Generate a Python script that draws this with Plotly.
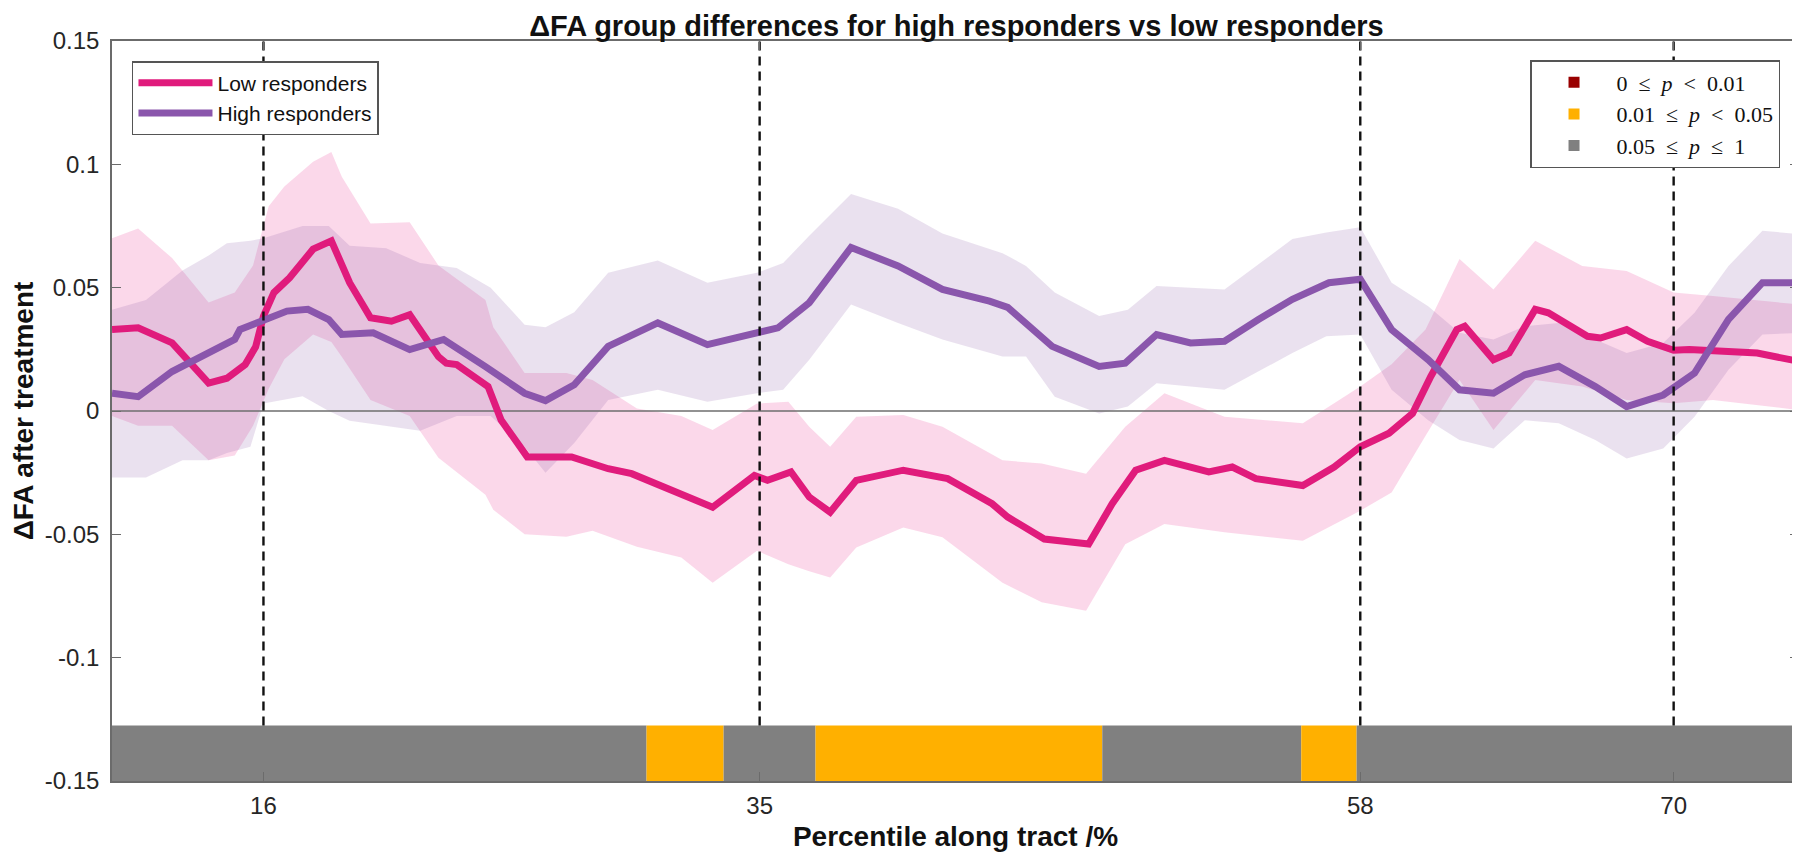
import plotly.graph_objects as go

# ---------------- data ----------------
low_x = [10.2, 11.2, 12.5, 13.9, 14.6, 15.3, 15.7, 16.0, 16.4, 17.0, 17.9, 18.6, 19.3, 20.1, 20.9,
         21.6, 22.7, 23.0, 23.4, 24.6, 25.1, 26.1, 27.8, 29.2, 30.1, 32.3, 33.2, 34.8, 35.3, 36.2,
         36.9, 37.7, 38.7, 40.5, 42.2, 43.9, 44.5, 45.9, 46.8, 47.6, 48.5, 49.4, 50.5, 52.2, 53.1,
         54.0, 55.8, 57.0, 58.0, 59.1, 60.0, 60.7, 61.7, 62.0, 63.1, 63.7, 64.7, 65.2, 66.7, 67.2,
         68.2, 69.0, 70.0, 70.6, 73.2, 74.8]
low_y = [0.033, 0.0337, 0.0276, 0.0113, 0.0133, 0.0188, 0.026, 0.0385, 0.048, 0.054, 0.0656, 0.069,
         0.052, 0.0378, 0.0364, 0.039, 0.022, 0.0194, 0.0188, 0.0099, -0.0037, -0.0186, -0.0186,
         -0.0234, -0.0254, -0.0356, -0.039, -0.0261, -0.0281, -0.0247, -0.0349, -0.041, -0.0281,
         -0.024, -0.0274, -0.0376, -0.043, -0.0519, -0.0526, -0.0539, -0.0376, -0.024, -0.020,
         -0.0247, -0.0227, -0.0274, -0.0302, -0.0227, -0.0145, -0.009, -0.001, 0.014, 0.033, 0.0344,
         0.0208, 0.0235, 0.0412, 0.0398, 0.0303, 0.0296, 0.033, 0.0283, 0.0246, 0.0249, 0.0235, 0.0201]

high_x = [10.2, 11.2, 12.5, 13.9, 14.9, 15.1, 16.2, 16.9, 17.7, 18.5, 19.0, 20.2, 21.6, 22.9, 24.5,
          26.0, 26.8, 27.9, 29.2, 31.1, 33.0, 34.9, 35.7, 36.9, 38.5, 40.3, 42.0, 43.8, 44.5, 46.2,
          48.0, 49.0, 50.2, 51.5, 52.8, 54.1, 55.4, 56.8, 58.0, 59.2, 60.6, 61.8, 63.1, 64.3, 65.6,
          67.0, 68.2, 69.6, 70.8, 72.1, 73.4, 74.8]
high_y = [0.0072, 0.0058, 0.016, 0.0235, 0.029, 0.033, 0.0378, 0.0405, 0.0412, 0.0371, 0.031, 0.0317,
          0.0249, 0.029, 0.018, 0.0072, 0.0042, 0.0106, 0.0262, 0.0357, 0.0269, 0.0317, 0.0337,
          0.0439, 0.0663, 0.0588, 0.0493, 0.0445, 0.042, 0.0262, 0.0181, 0.0194, 0.031, 0.0276,
          0.0283, 0.0371, 0.0453, 0.052, 0.0534, 0.033, 0.0208, 0.0086, 0.0072, 0.0147, 0.0181,
          0.0099, 0.0018, 0.0065, 0.0154, 0.0371, 0.052, 0.052]

low_band_x = [10.2, 11.2, 12.5, 13.9, 14.9, 15.6, 16.2, 16.8, 17.9, 18.6, 19.0, 20.1, 21.6, 22.7,
              24.5, 24.8, 26.0, 27.6, 28.6, 30.3, 32.0, 33.2, 34.9, 36.1, 36.9, 37.7, 38.7, 40.5,
              42.0, 44.3, 45.8, 47.5, 49.0, 50.5, 52.8, 55.8, 57.0, 58.0, 59.2, 60.5, 61.8, 63.1,
              64.7, 66.5, 68.2, 70.0, 71.5, 74.8]
low_band_hi = [0.070, 0.074, 0.062, 0.044, 0.048, 0.059, 0.083, 0.091, 0.101, 0.105, 0.095, 0.076,
               0.0765, 0.059, 0.045, 0.034, 0.0154, 0.0154, 0.0126, 0.001, -0.002, -0.0077, 0.003,
               0.0038, -0.0064, -0.0145, -0.0023, -0.0016, -0.0064, -0.020, -0.0213, -0.0254,
               -0.0064, 0.0072, -0.0023, -0.005, 0.0031, 0.0099, 0.019, 0.033, 0.0616, 0.0493,
               0.069, 0.0588, 0.0568, 0.048, 0.0466, 0.0432]
low_band_lo = [-0.002, -0.006, -0.006, -0.020, -0.018, -0.006, 0.009, 0.021, 0.031, 0.028, 0.022,
               0.0045, -0.002, -0.019, -0.034, -0.040, -0.050, -0.051, -0.0485, -0.055, -0.0594,
               -0.0696, -0.0567, -0.0621, -0.065, -0.0675, -0.0553, -0.0472, -0.0512, -0.0696,
               -0.0775, -0.081, -0.054, -0.0458, -0.0492, -0.0526, -0.046, -0.0404, -0.033, -0.010,
               0.0126, -0.0077, 0.0126, 0.0099, 0.0045, 0.0031, 0.0045, 0.0004]

high_band_x = [10.2, 11.5, 12.9, 13.9, 14.6, 15.5, 16.0, 17.5, 18.5, 19.3, 20.7, 22.0, 23.4, 24.7,
               26.0, 26.8, 27.9, 29.2, 31.1, 33.0, 34.9, 35.9, 36.9, 38.5, 40.3, 42.0, 44.3, 45.2,
               46.3, 48.0, 49.1, 50.2, 52.8, 55.4, 56.7, 58.0, 59.2, 60.6, 61.8, 63.1, 64.3, 65.6,
               67.0, 68.2, 69.6, 70.8, 72.1, 73.4, 74.8]
high_band_hi = [0.041, 0.045, 0.057, 0.063, 0.068, 0.069, 0.070, 0.075, 0.075, 0.067, 0.066, 0.060,
                0.058, 0.050, 0.035, 0.034, 0.040, 0.056, 0.061, 0.052, 0.056, 0.060, 0.071, 0.088,
                0.082, 0.072, 0.064, 0.0588, 0.048, 0.0385, 0.041, 0.0507, 0.0493, 0.0697, 0.0724,
                0.0745, 0.052, 0.0425, 0.0317, 0.029, 0.0344, 0.0357, 0.029, 0.0235, 0.0276, 0.0398,
                0.0588, 0.0731, 0.0717]
high_band_lo = [-0.027, -0.027, -0.020, -0.020, -0.017, -0.0145, 0.003, 0.006, 0.000, -0.004,
                -0.006, -0.008, -0.002, -0.002, -0.0145, -0.025, -0.013, 0.0045, 0.0086, 0.0038,
                0.0072, 0.0086, 0.0208, 0.0432, 0.0357, 0.029, 0.0221, 0.0221, 0.0058, -0.001,
                0.0018, 0.0113, 0.0086, 0.0235, 0.0303, 0.031, 0.0086, -0.0037, -0.0118, -0.0152,
                -0.0037, -0.005, -0.0118, -0.0193, -0.0152, -0.0023, 0.0167, 0.031, 0.0317]

# significance strip: segment edges and p-value class of each segment
sig_edges = [10.2, 30.67, 33.62, 37.14, 48.12, 55.74, 57.86, 74.8]
sig_levels = ["ns", "p05", "ns", "p05", "ns", "p05", "ns"]
sig_labels = {"p01": "0\u00a0 ≤\u00a0 <i>p</i>\u00a0 &lt;\u00a0 0.01",
              "p05": "0.01\u00a0 ≤\u00a0 <i>p</i>\u00a0 &lt;\u00a0 0.05",
              "ns": "0.05\u00a0 ≤\u00a0 <i>p</i>\u00a0 ≤\u00a0 1"}
sig_order = ["p01", "p05", "ns"]
strip_bottom = -0.15
strip_top = -0.1275

vline_x = [16, 35, 58, 70]
xtick_vals = [16, 35, 58, 70]
ytick_vals = [0.15, 0.1, 0.05, 0, -0.05, -0.1, -0.15]
ytick_text = ["0.15", "0.1", "0.05", "0", "-0.05", "-0.1", "-0.15"]
x_range = [10.2, 74.8]
y_range = [-0.15, 0.15]

# ---------------- styles ----------------
LOW_LINE = "#E01B7C"
HIGH_LINE = "#8A56AC"
LOW_FILL = "rgba(231,41,138,0.18)"
HIGH_FILL = "rgba(136,86,167,0.18)"
SIG_COLORS = {"p01": "#990000", "p05": "#FFB000", "ns": "#808080"}
SANS = "Liberation Sans, Arial, sans-serif"
SERIF = "Liberation Serif, Times New Roman, serif"
AXIS_COLOR = "#6b6b6b"

W, H = 1800, 856
L, R, T, B = 104, 7, 33, 83
PW, PH = W - L - R, H - T - B
TITLE_SIZE = 29

fig = go.Figure()

# significance strip as bars (drawn below the scatter layer)
centers = [(a + b) / 2 for a, b in zip(sig_edges[:-1], sig_edges[1:])]
widths = [b - a for a, b in zip(sig_edges[:-1], sig_edges[1:])]
fig.add_trace(go.Bar(
    x=centers, y=[strip_top - strip_bottom] * len(centers), base=strip_bottom,
    width=widths, marker=dict(color=[SIG_COLORS[l] for l in sig_levels], line=dict(width=0)),
    showlegend=False, hoverinfo="skip"))

# confidence bands
fig.add_trace(go.Scatter(
    x=low_band_x + low_band_x[::-1], y=low_band_hi + low_band_lo[::-1],
    fill="toself", fillcolor=LOW_FILL, line=dict(width=0), mode="lines",
    showlegend=False, hoverinfo="skip"))
fig.add_trace(go.Scatter(
    x=high_band_x + high_band_x[::-1], y=high_band_hi + high_band_lo[::-1],
    fill="toself", fillcolor=HIGH_FILL, line=dict(width=0), mode="lines",
    showlegend=False, hoverinfo="skip"))

# zero line
fig.add_trace(go.Scatter(x=x_range, y=[0, 0], mode="lines",
                         line=dict(color="#6e6e6e", width=1.6),
                         showlegend=False, hoverinfo="skip"))

# mean lines
fig.add_trace(go.Scatter(x=low_x, y=low_y, mode="lines", name="Low responders",
                         line=dict(color=LOW_LINE, width=7), legend="legend"))
fig.add_trace(go.Scatter(x=high_x, y=high_y, mode="lines", name="High responders",
                         line=dict(color=HIGH_LINE, width=7), legend="legend"))

# dashed markers of the tract positions
for xv in vline_x:
    fig.add_trace(go.Scatter(x=[xv, xv], y=[strip_top, y_range[1]], mode="lines",
                             line=dict(color="#111111", width=2.4, dash="9px,6px"),
                             showlegend=False, hoverinfo="skip"))

# p-value legend entries
for key in sig_order:
    fig.add_trace(go.Scatter(x=[None], y=[None], mode="markers", name=sig_labels[key],
                             marker=dict(symbol="square", size=11, color=SIG_COLORS[key]),
                             legend="legend2"))

fig.update_layout(
    width=W, height=H,
    margin=dict(l=L, r=R, t=T, b=B),
    plot_bgcolor="white", paper_bgcolor="white",
    barmode="overlay",
    font=dict(family=SANS, color="#262626"),
    title=dict(text="<b>ΔFA group differences for high responders vs low responders</b>",
               x=(L + PW / 2) / W, xanchor="center",
               y=1 - (28 - 0.7 * TITLE_SIZE) / H, yanchor="top",
               font=dict(family=SANS, size=TITLE_SIZE, color="#111111")),
    xaxis=dict(range=x_range, tickvals=xtick_vals, ticks="inside", ticklen=9, tickwidth=1.3,
               tickcolor=AXIS_COLOR, showline=True, linecolor=AXIS_COLOR, linewidth=1.6,
               mirror="ticks", showgrid=False, zeroline=False,
               tickfont=dict(family=SANS, size=24, color="#262626"), ticklabelstandoff=2,
               title=dict(text="<b>Percentile along tract /%</b>", standoff=9,
                          font=dict(family=SANS, size=28, color="#111111"))),
    yaxis=dict(range=y_range, tickvals=ytick_vals, ticktext=ytick_text, ticks="inside", ticklen=9,
               tickwidth=1.3, tickcolor=AXIS_COLOR, showline=True, linecolor=AXIS_COLOR,
               linewidth=1.6, mirror="ticks", showgrid=False, zeroline=False,
               tickfont=dict(family=SANS, size=24, color="#262626"), ticklabelstandoff=6,
               title=dict(text="<b>ΔFA after treatment</b>", standoff=6,
                          font=dict(family=SANS, size=28, color="#111111"))),
    legend=dict(x=(124 - L) / PW, y=1 - (53 - T) / PH, xanchor="left", yanchor="top",
                bgcolor="white", bordercolor="#555555", borderwidth=1.5,
                font=dict(family=SANS, size=21, color="#111111"), itemwidth=74,
                traceorder="normal", tracegroupgap=0),
    legend2=dict(x=(1774 - L) / PW, y=1 - (52 - T) / PH, xanchor="right", yanchor="top",
                 bgcolor="white", bordercolor="#555555", borderwidth=1.5,
                 font=dict(family=SERIF, size=22, color="#111111"), itemwidth=75,
                 traceorder="normal"),
)

fig.write_html("out.html")
